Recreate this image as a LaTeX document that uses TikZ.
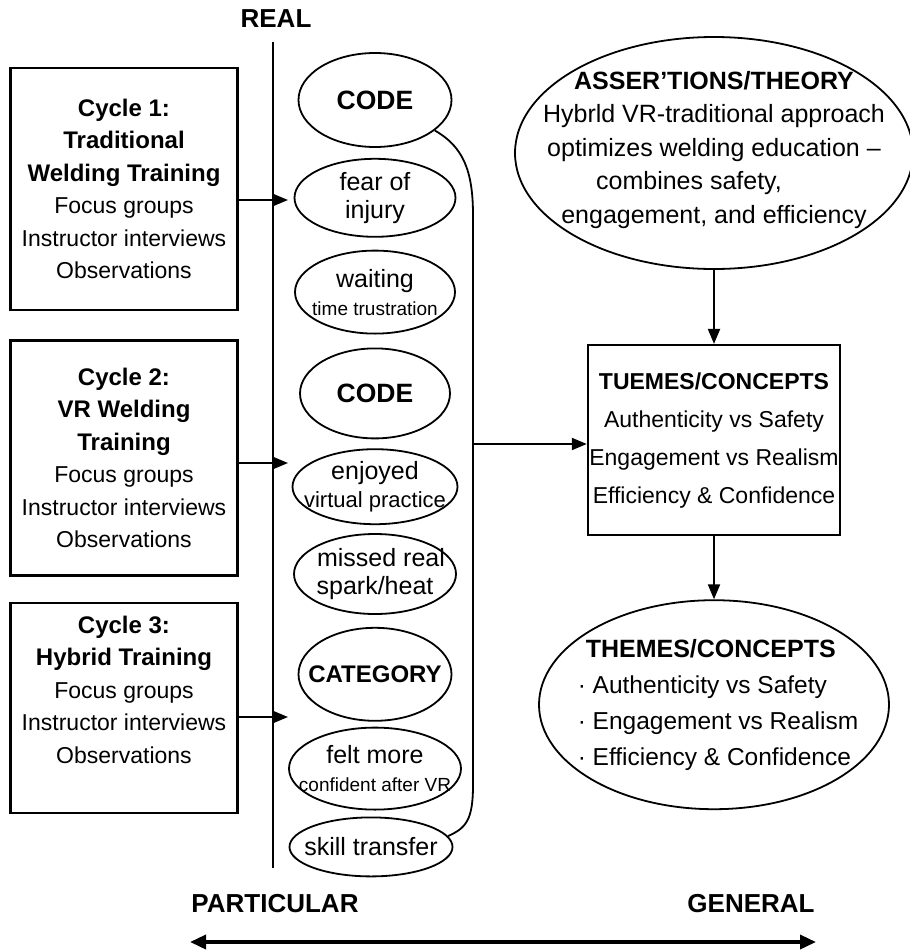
\documentclass[tikz,border=0pt]{standalone}
\usepackage{fontspec}
\setmainfont{Liberation Sans}
\usetikzlibrary{positioning, shapes.geometric, arrows.meta}

\newcommand{\cyctitle}[1]{{\fontsize{24}{32.5}\selectfont\bfseries #1}}

\begin{document}
\begin{tikzpicture}[x=1pt, y=-1pt, node distance=10pt,
  cycle box/.style={rectangle, draw, line width=2.4pt, minimum width=227pt, align=center,
    font=\fontsize{23}{32.5}\selectfont},
  oval/.style={ellipse, draw, line width=1.8pt, inner sep=0pt},
  oval text/.style={align=center, font=\fontsize{25}{28}\selectfont},
  code text/.style={font=\fontsize{26.5}{30}\selectfont\bfseries},
  big text/.style={align=center, font=\fontsize{25}{33.5}\selectfont},
  tip/.style={-{Triangle[length=15pt,width=12pt]}, line width=2pt},
  axis label/.style={font=\fontsize{26}{30}\selectfont\bfseries}]

\useasboundingbox (0,0) rectangle (910,951);

\node[font=\fontsize{26}{30}\selectfont\bfseries] (real) at (276,19) {REAL};
\coordinate (vtop) at (273,42);
\coordinate (vbot) at (273,868);
\draw[line width=2.4pt] (vtop) -- (vbot);

\node[cycle box, minimum height=242pt] (cyc1) at (124,189)
  {\cyctitle{Cycle 1:}\\\cyctitle{Traditional}\\\cyctitle{Welding Training}\\Focus groups\\Instructor interviews\\Observations};
\node[cycle box, minimum height=235pt] (cyc2) [below=28pt of cyc1]
  {\cyctitle{Cycle 2:}\\\cyctitle{VR Welding}\\\cyctitle{Training}\\Focus groups\\Instructor interviews\\Observations};
\node[cycle box, minimum height=210pt] (cyc3) [below=25pt of cyc2]
  {\cyctitle{Cycle 3:}\\\cyctitle{Hybrid Training}\\Focus groups\\Instructor interviews\\Observations\\[4pt]};

\coordinate (in1) at (288,200);
\coordinate (in2) at (288,463);
\coordinate (in3) at (288,717);
\draw[tip] (cyc1.east |- in1) -- (in1);
\draw[tip] (cyc2.east |- in2) -- (in2);
\draw[tip] (cyc3.east |- in3) -- (in3);

\node[oval, minimum width=153pt, minimum height=94pt, label={[code text]center:CODE}] (code1) at (375,100) {};
\node[oval, minimum width=161pt, minimum height=78pt, label={[oval text]center:{fear of\\injury}}] (fear) [below=10pt of code1] {};
\node[oval, minimum width=160pt, minimum height=83pt,
  label={[oval text]center:{waiting\\{\fontsize{19}{22}\selectfont time trustration}}}] (wait) [below=12pt of fear] {};
\node[oval, minimum width=150pt, minimum height=90pt, label={[code text]center:CODE}] (code2) [below=13pt of wait] {};
\node[oval, minimum width=165pt, minimum height=75pt,
  label={[oval text]center:{enjoyed\\{\fontsize{22}{26}\selectfont virtual practice}}}] (enjoy) [below=9pt of code2] {};
\node[oval, minimum width=162pt, minimum height=80pt, label={[oval text]center:{\hspace*{12pt}missed real\\spark/heat}}] (miss) [below=8pt of enjoy] {};
\node[oval, minimum width=153pt, minimum height=93pt,
  label={[code text, font=\fontsize{24}{28}\selectfont\bfseries]center:CATEGORY}] (categ) [below=12pt of miss] {};
\node[oval, minimum width=172pt, minimum height=82pt,
  label={[oval text]center:{felt more\\{\fontsize{19}{22}\selectfont confident after VR}}}] (felt) [below=5pt of categ] {};
\node[oval, minimum width=163pt, minimum height=59pt, label={[oval text]center:skill transfer}] (skill) [below=6pt of felt, xshift=-4pt] {};

\coordinate (brtop) at (473,215);
\coordinate (brmid) at (473,444);
\coordinate (brbot) at (473,785);
\draw[line width=1.8pt] (code1.-27) .. controls +(28,16) and +(0,-45) .. (brtop) -- (brbot)
  .. controls +(0,35) and +(18,-8) .. (skill.8);

\node[oval, minimum width=398pt, minimum height=232pt,
  label={[big text, yshift=3pt]center:{\textbf{ASSER’TIONS/THEORY}\\Hybrld VR-traditional approach\\optimizes welding education –\\combines safety,\hspace*{50pt}\mbox{}\\engagement, and efficiency}}]
  (assert) at (714,153) {};
\node[rectangle, draw, line width=2.4pt, minimum width=252pt, minimum height=190pt, inner xsep=1pt, align=center,
  font=\fontsize{23}{38}\selectfont] (tbox) [below=74pt of assert]
  {{\bfseries TUEMES/CONCEPTS}\\Authenticity vs Safety\\Engagement vs Realism\\Efficiency \& Confidence};
\node[oval, minimum width=350pt, minimum height=209pt,
  label={[oval text, align=left, xshift=4pt, font=\fontsize{24.5}{36}\selectfont]center:{\hspace*{8pt}{\fontsize{25}{36}\selectfont\bfseries THEMES/CONCEPTS}\\· Authenticity vs Safety\\· Engagement vs Realism\\· Efficiency \& Confidence}}]
  (themes) [below=63pt of tbox] {};

\path[tip] (assert) edge (tbox) (tbox) edge (themes);
\draw[tip] (brmid) -- (tbox.west |- brmid);

\node[axis label] (partic) at (275,904) {PARTICULAR};
\node[axis label] (general) at (751,904) {GENERAL};
\coordinate (pleft) at (190,942);
\coordinate (pright) at (816,942);
\draw[{Triangle[length=16pt,width=14pt]}-{Triangle[length=16pt,width=14pt]}, line width=3.5pt] (pleft) -- (pright);
\end{tikzpicture}
\end{document}
